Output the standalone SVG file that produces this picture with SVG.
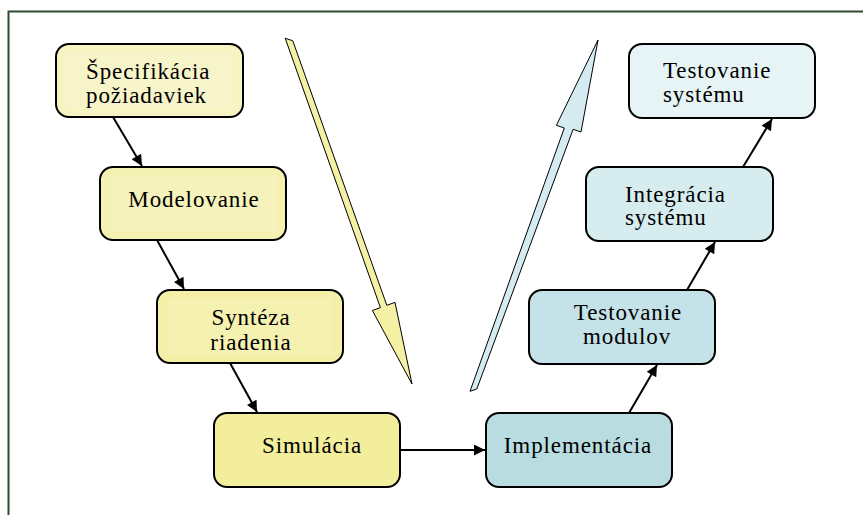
<svg xmlns="http://www.w3.org/2000/svg" width="863" height="515" viewBox="0 0 863 515">
  <defs>
    <marker id="arr" viewBox="0 0 10 10" refX="10" refY="5" markerWidth="13" markerHeight="11" markerUnits="userSpaceOnUse" orient="auto">
      <path d="M0,0 L10,5 L0,10 Z" fill="#000"/>
    </marker>
    <style>
      .node rect.box { stroke: #000; stroke-width: 2; }
      .node rect.glow { fill: #fff; opacity: 0.12; stroke: none; }
      .node text { font-family: 'Liberation Serif', 'Times New Roman', serif; font-size: 23px; letter-spacing: 0.9px; fill: #000; }
      .mid { text-anchor: middle; }
      #connectors line { stroke: #000; stroke-width: 2; marker-end: url(#arr); }
      .big { stroke: #000; stroke-width: 1; stroke-linejoin: miter; }
    </style>
  </defs>

  <rect width="863" height="515" fill="#fff"/>
  <!-- frame: only the top and left edges are visible -->
  <path d="M8.5,515 V11.5 H863" fill="none" stroke="#2e4a30" stroke-width="2"/>

  <!-- large direction arrows -->
  <g id="down-arrow">
    <polygon class="big" fill="#f4f0a4" points="285.2,38.2 292.8,40.8 386.8,305.3 395.0,302.4 412,384 372.4,310.5 380.4,307.6"/>
  </g>
  <g id="up-arrow">
    <polygon class="big" fill="#d4ebf1" points="470,391.3 476.8,389 573.1,129.3 581,132 598,40 556.4,125.3 564.3,128"/>
  </g>

  <g id="connectors">
    <line x1="113" y1="117" x2="142" y2="166"/>
    <line x1="157" y1="240" x2="184" y2="289"/>
    <line x1="230" y1="363" x2="257" y2="412"/>
    <line x1="400" y1="450" x2="485" y2="450"/>
    <line x1="629" y1="413" x2="657" y2="365"/>
    <line x1="687" y1="290" x2="715" y2="242"/>
    <line x1="743" y1="167" x2="772" y2="119"/>
  </g>

  <g id="specifikacia" class="node">
    <rect class="box" x="56" y="44" width="187" height="73" rx="13" fill="#f7f3c2"/>
    <rect class="glow" x="66" y="52" width="167" height="57"/>
    <text x="86" y="79">Špecifikácia</text>
    <text x="86" y="103">požiadaviek</text>
  </g>

  <g id="modelovanie" class="node">
    <rect class="box" x="100" y="167" width="186" height="73" rx="13" fill="#f5f1b2"/>
    <rect class="glow" x="110" y="175" width="166" height="57"/>
    <text x="194" y="207" class="mid">Modelovanie</text>
  </g>

  <g id="synteza" class="node">
    <rect class="box" x="157" y="290" width="186" height="73" rx="13" fill="#f4efa6"/>
    <rect class="glow" x="167" y="298" width="166" height="57"/>
    <text x="251" y="325" class="mid">Syntéza</text>
    <text x="251" y="350" class="mid">riadenia</text>
  </g>

  <g id="simulacia" class="node">
    <rect class="box" x="214" y="413" width="186" height="74" rx="13" fill="#f3ee9b"/>
    <text x="312" y="453" class="mid">Simulácia</text>
  </g>

  <g id="implementacia" class="node">
    <rect class="box" x="486" y="413" width="186" height="74" rx="13" fill="#b9dce1"/>
    <text x="578" y="453" class="mid">Implementácia</text>
  </g>

  <g id="testovanie-modulov" class="node">
    <rect class="box" x="529" y="290" width="186" height="74" rx="13" fill="#c4e2e7"/>
    <text x="628" y="320" class="mid">Testovanie</text>
    <text x="627" y="344" class="mid">modulov</text>
  </g>

  <g id="integracia" class="node">
    <rect class="box" x="586" y="167" width="187" height="74" rx="13" fill="#d7ecef"/>
    <text x="625" y="202">Integrácia</text>
    <text x="625" y="225">systému</text>
  </g>

  <g id="testovanie-systemu" class="node">
    <rect class="box" x="629" y="44" width="186" height="74" rx="13" fill="#e7f4f6"/>
    <text x="663" y="78">Testovanie</text>
    <text x="663" y="102">systému</text>
  </g>
</svg>
